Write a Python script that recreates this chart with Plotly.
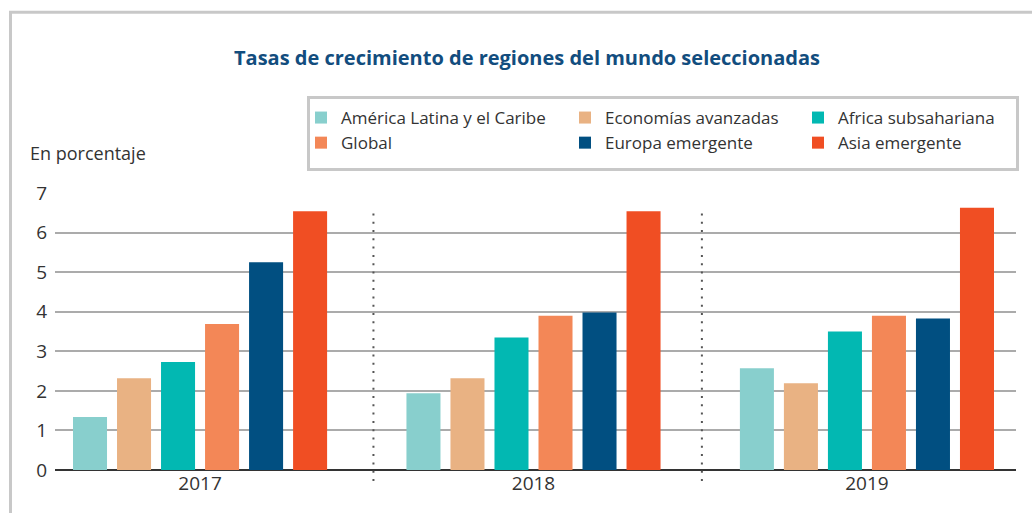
import plotly.graph_objects as go

# ---------------- data ----------------
years = ["2017", "2018", "2019"]
series_names = [
    "América Latina y el Caribe",
    "Economías avanzadas",
    "Africa subsahariana",
    "Global",
    "Europa emergente",
    "Asia emergente",
]
america_latina = [1.34, 1.94, 2.57]
economias_avanzadas = [2.32, 2.32, 2.19]
africa_subsahariana = [2.73, 3.35, 3.50]
global_values = [3.69, 3.90, 3.90]
europa_emergente = [5.25, 3.98, 3.83]
asia_emergente = [6.54, 6.54, 6.63]
y_ticks = [0, 1, 2, 3, 4, 5, 6, 7]

series_values = [america_latina, economias_avanzadas, africa_subsahariana,
                 global_values, europa_emergente, asia_emergente]
colors = ["#88cfcd", "#e9b283", "#02b8b2", "#f38757", "#014f81", "#f04e23"]
legend_ids = ["legend", "legend2", "legend3", "legend", "legend2", "legend3"]

# ---------------- layout geometry ----------------
W, H = 1032, 513
ML, MR, MT, MB = 55, 16, 193, 43
PW, PH = W - ML - MR, H - MT - MB
XR = [-0.435, 2.447]


def px_x(p):
    return (p - ML) / PW


def px_y(p):
    return (H - MB - p) / PH


def data_x_to_paper(v):
    return (v - XR[0]) / (XR[1] - XR[0])


FONT = "Open Sans, Noto Sans, sans-serif"
TXT = "#333333"

fig = go.Figure()
for name, vals, col, lg in zip(series_names, series_values, colors, legend_ids):
    fig.add_trace(go.Bar(
        x=years, y=vals, name=name, marker=dict(color=col, line=dict(width=0)),
        legend=lg, hoverinfo="x+y+name",
    ))

shapes = []
# outer frame (top + left)
shapes.append(dict(type="line", xref="paper", yref="paper",
                   x0=px_x(9), x1=px_x(1040), y0=px_y(12.3), y1=px_y(12.3),
                   line=dict(color="#c8c8c8", width=3)))
shapes.append(dict(type="line", xref="paper", yref="paper",
                   x0=px_x(10.5), x1=px_x(10.5), y0=px_y(11), y1=px_y(520),
                   line=dict(color="#c8c8c8", width=3)))
# legend box
shapes.append(dict(type="rect", xref="paper", yref="paper",
                   x0=px_x(308.5), x1=px_x(1017.5), y0=px_y(97.5), y1=px_y(169.5),
                   line=dict(color="#c8c8c8", width=3), fillcolor="rgba(0,0,0,0)"))
# dotted separators between years
for sep in [0.52, 1.505]:
    shapes.append(dict(type="line", xref="paper", yref="paper",
                       x0=data_x_to_paper(sep), x1=data_x_to_paper(sep),
                       y0=px_y(481), y1=px_y(211),
                       line=dict(color="#555555", width=2, dash="2px,6.3px")))

legend_common = dict(
    orientation="v", xref="paper", yref="paper", xanchor="left", yanchor="top",
    font=dict(family=FONT, size=17, color=TXT), bgcolor="rgba(0,0,0,0)", borderwidth=0,
    traceorder="normal",
)

fig.update_layout(
    width=W, height=H,
    margin=dict(l=ML, r=MR, t=MT, b=MB, pad=0, autoexpand=False),
    paper_bgcolor="white", plot_bgcolor="white",
    font=dict(family=FONT, color=TXT),
    barmode="group", bargap=0.208, bargroupgap=0.227,
    title=dict(
        text="Tasas de crecimiento de regiones del mundo seleccionadas",
        font=dict(family=FONT, size=20, color="#124d7e", weight="bold"),
        xref="container", yref="container", x=527 / W, y=1 - 58 / H,
        xanchor="center", yanchor="middle",
    ),
    xaxis=dict(
        type="category", range=XR, showgrid=False, zeroline=False, showline=False,
        ticks="", automargin=False, tickfont=dict(family=FONT, size=19, color=TXT),
    ),
    yaxis=dict(
        range=[0, 7], tickvals=y_ticks, showgrid=True, gridcolor="#ababab", gridwidth=1.5,
        zeroline=True, zerolinecolor="#333333", zerolinewidth=1.5, showline=False,
        ticks="", ticklabelstandoff=7, automargin=False,
        tickfont=dict(family=FONT, size=19, color=TXT),
    ),
    legend=dict(x=px_x(301), y=px_y(100), **legend_common),
    legend2=dict(x=px_x(565), y=px_y(100), **legend_common),
    legend3=dict(x=px_x(798), y=px_y(100), **legend_common),
    shapes=shapes,
    annotations=[dict(
        text="En porcentaje", xref="paper", yref="paper", x=px_x(28), y=px_y(153),
        xanchor="left", yanchor="middle", showarrow=False,
        font=dict(family=FONT, size=18, color=TXT),
    )],
    showlegend=True,
)

fig.write_html("out.html", config={"displayModeBar": False},
               post_script="document.body.style.margin='0px';")
